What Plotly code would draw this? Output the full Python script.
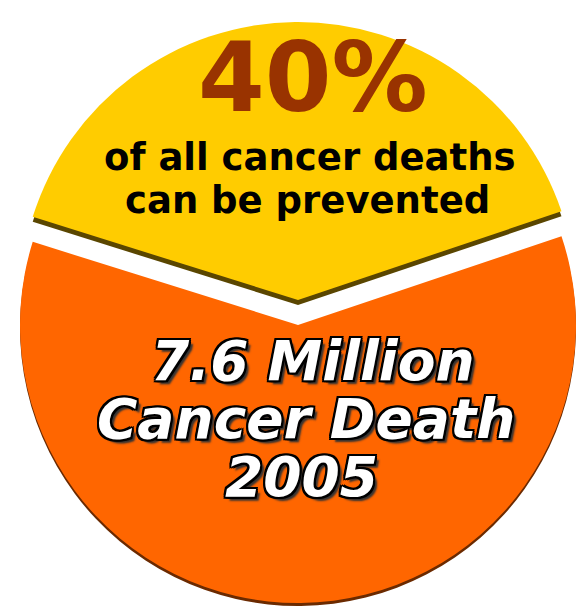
import plotly.graph_objects as go

# ---- data ----
labels = ["Preventable", "Not preventable"]
shares = [40, 60]
headline = "40%"
sub_lines = ["of all cancer deaths", "can be prevented"]
total_lines = ["7.6 Million", "Cancer Death", "2005"]

# ---- styling ----
W, H = 578, 606
YELLOW = "#FFCC00"
ORANGE = "#FF6600"
CLEAR = "rgba(0,0,0,0)"
Y_SHADOW = "#5a4600"
O_SHADOW = "#6b2a00"
ROT = -72.6


def dom(cx, cy, r):
    return dict(
        x=[max(0, (cx - r) / W), min(1, (cx + r) / W)],
        y=[max(0, 1 - (cy + r) / H), min(1, 1 - (cy - r) / H)],
    )


def pie(colors, domain):
    return go.Pie(
        labels=labels,
        values=shares,
        sort=False,
        direction="clockwise",
        rotation=ROT,
        marker=dict(colors=colors, line=dict(width=0)),
        textinfo="none",
        hoverinfo="skip",
        domain=domain,
        showlegend=False,
    )


CX, R = 298, 278
fig = go.Figure()
fig.add_trace(pie([CLEAR, O_SHADOW], dom(CX, 328, R)))
fig.add_trace(pie([CLEAR, ORANGE], dom(CX, 325, R)))
fig.add_trace(pie([Y_SHADOW, CLEAR], dom(CX, 305, R)))
fig.add_trace(pie([YELLOW, CLEAR], dom(CX, 300, R)))

FONT = "DejaVu Sans, Verdana, sans-serif"
ann = []
ann.append(dict(text="<b>%s</b>" % headline, x=313 / W, y=0.8715,
                font=dict(family=FONT, size=96, color="#993300")))
for txt, y, x in zip(sub_lines, [0.7406, 0.6696], [310, 307.5]):
    ann.append(dict(text="<b>%s</b>" % txt, x=x / W, y=y,
                    font=dict(family=FONT, size=37, color="#000000")))
outline = ("2px 2px 0 #000, -2px -2px 0 #000, 2px -2px 0 #000, -2px 2px 0 #000, "
           "2px 0 0 #000, -2px 0 0 #000, 0 2px 0 #000, 0 -2px 0 #000, 4px 4px 2px #333")
for txt, y, x in zip(total_lines, [0.4050, 0.3092, 0.2135], [313, 305.5, 301.5]):
    ann.append(dict(text="<b><i>%s</i></b>" % txt, x=x / W, y=y,
                    font=dict(family=FONT, size=55, color="#FFFFFF", shadow=outline)))
for a in ann:
    a.update(xref="paper", yref="paper", showarrow=False, xanchor="center", yanchor="middle")

fig.update_layout(
    width=W, height=H,
    margin=dict(l=0, r=0, t=0, b=0),
    paper_bgcolor="white",
    plot_bgcolor="white",
    annotations=ann,
    showlegend=False,
)

fig.write_html("out.html", config={"displayModeBar": False},
               post_script="document.body.style.margin='0';")
